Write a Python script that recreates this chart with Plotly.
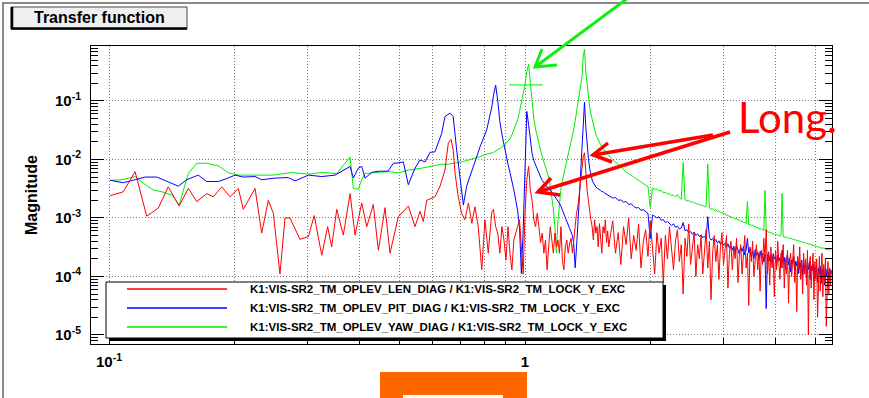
import numpy as np
import plotly.graph_objects as go

W, H = 869, 398
FL, FR, FT, FB = 91, 832, 46, 344   # frame edges in pixels


def px(x):
    return (x - FL) / (FR - FL)


def py(y):
    return (FB - y) / (FB - FT)


# ---------------- data ----------------
# shared FFT bins above 0.84 Hz
freq_mid = np.round(np.arange(84, 160) / 100.0, 2)          # 0.84 .. 1.59 Hz
freq_hi = np.round(np.arange(64, 219) * 0.025, 3)           # 1.600 .. 5.450 Hz

# LEN_DIAG / LOCK_Y_EXC
red_lo_freq = [0.1006, 0.1082, 0.1155, 0.1232, 0.1313, 0.1388, 0.1474, 0.1551, 0.1625, 0.1717,
               0.1781, 0.1866, 0.1954, 0.2046, 0.2102, 0.2244, 0.2328, 0.2415, 0.2483, 0.2576,
               0.2649, 0.2723, 0.2877, 0.3015, 0.3114, 0.3246, 0.3354, 0.3429, 0.3527, 0.3658,
               0.3797, 0.3903, 0.4050, 0.4164, 0.4318, 0.4441, 0.4608, 0.4737, 0.4960, 0.5242,
               0.5440, 0.5593, 0.5695, 0.5803, 0.6075, 0.625, 0.642, 0.654, 0.664, 0.672,
               0.679, 0.691, 0.704, 0.717, 0.731, 0.745, 0.758, 0.772, 0.787, 0.801,
               0.816, 0.832]
red_lo_mag = [2.4e-3, 2.8e-3, 6.2e-3, 1.07e-3, 1.47e-3, 3.4e-3, 1.6e-3, 3.2e-3, 1.9e-3, 2.6e-3,
              2.3e-3, 3.4e-3, 2.3e-3, 3.2e-3, 1.4e-3, 3.2e-3, 5.5e-4, 2.0e-3, 1.2e-3, 1.1e-4,
              1.0e-3, 1.0e-3, 4.3e-4, 4.8e-4, 1.1e-3, 2.3e-4, 7.1e-4, 3.2e-4, 1.4e-3, 5.1e-4,
              2.6e-3, 5.1e-4, 1.8e-3, 7.1e-4, 1.7e-3, 2.8e-4, 1.5e-3, 2.5e-4, 1.05e-3, 1.6e-3,
              7.1e-4, 1.3e-3, 8.7e-4, 2.0e-3, 2.3e-3, 3.5e-3, 6.6e-3, 1.9e-2, 2.2e-2, 1.45e-2,
              5.8e-3, 2.3e-3, 1.2e-3, 9.3e-4, 1.8e-3, 8.1e-4, 1.55e-3, 7.1e-4, 1.3e-4, 9.3e-4,
              2.5e-4, 1.26e-3]
red_mid = [1.4e-3, 7.1e-4, 5.5e-4, 2.5e-4, 7.1e-4, 4.2e-4, 1.9e-4, 7.1e-4, 2.5e-4, 1.3e-4,
           4.2e-4, 5.5e-4, 7.1e-4, 9.3e-4, 3.2e-4, 1.1e-4, 1.2e-3, 4.5e-3, 7.6e-3, 3.0e-3,
           2.0e-3, 9.3e-4, 7.1e-4, 1.2e-3, 7.1e-4, 3.8e-4, 5.5e-4, 2.5e-4, 4.2e-4, 1.3e-4,
           3.2e-4, 7.1e-4, 4.2e-4, 2.5e-4, 5.5e-4, 3.2e-4, 4.2e-4, 2.5e-4, 7.1e-4, 1.9e-4,
           1.3e-4, 3.2e-4, 4.2e-4, 2.5e-4, 3.6e-4, 4.5e-4, 2.5e-4, 5.0e-4, 7.1e-4, 1.2e-3,
           1.6e-3, 2.5e-3, 4.0e-3, 7.0e-3, 1.1e-2, 1.3e-2, 5.0e-3, 3.0e-3, 2.0e-3, 1.2e-3,
           9.3e-4, 7.1e-4, 4.2e-4, 9.3e-4, 5.5e-4, 7.1e-4, 3.2e-4, 8.0e-4, 4.2e-4, 2.5e-4,
           7.1e-4, 5.5e-4, 9.3e-4, 3.8e-4, 6.0e-4, 3.2e-4]
red_hi = [4.5e-4, 8.9e-4, 2.5e-4, 5.6e-4, 1.6e-4, 7.1e-4, 3.5e-4, 1.0e-3, 2.0e-4, 5.0e-4,
          2.8e-4, 7.9e-4, 1.4e-4, 4.0e-4, 6.3e-4, 2.2e-4, 8.9e-4, 3.2e-4, 1.1e-4, 5.6e-4,
          2.5e-4, 4.5e-4, 7.9e-5, 5.0e-4, 2.0e-4, 7.1e-4, 2.8e-4, 1.3e-4, 4.0e-4, 6.3e-4,
          1.8e-4, 3.5e-4, 5.0e-5, 4.5e-4, 2.2e-4, 7.9e-4, 1.6e-4, 3.2e-4, 5.6e-4, 1.0e-4,
          3.5e-4, 2.0e-4, 5.0e-4, 1.1e-4, 2.8e-4, 6.3e-4, 1.4e-4, 4.0e-4, 4.0e-5, 2.5e-4,
          5.0e-4, 1.8e-4, 3.5e-4, 8.9e-5, 3.2e-4, 5.6e-4, 1.6e-4, 2.8e-4, 5.0e-4, 6.3e-5,
          2.5e-4, 4.0e-4, 1.3e-4, 3.2e-4, 2.0e-4, 4.5e-4, 7.9e-5, 2.2e-4, 3.5e-4, 1.1e-4,
          2.8e-4, 5.0e-4, 1.4e-4, 2.5e-4, 3.2e-5, 3.2e-4, 1.8e-4, 4.0e-4, 1.0e-4, 2.2e-4,
          3.5e-4, 1.3e-4, 2.5e-4, 5.6e-5, 2.8e-4, 1.6e-4, 4.5e-4, 2.0e-4, 6.3e-4, 1.1e-4,
          2.5e-4, 7.1e-5, 3.2e-4, 1.4e-4, 2.2e-4, 4.5e-5, 2.8e-4, 1.3e-4, 4.0e-4, 1.8e-4,
          8.9e-5, 2.5e-4, 1.4e-4, 3.5e-4, 6.3e-5, 2.0e-4, 1.1e-4, 2.8e-4, 3.5e-5, 1.8e-4,
          2.5e-4, 1.0e-4, 2.0e-4, 3.5e-4, 7.9e-5, 1.6e-4, 2.5e-5, 2.2e-4, 1.3e-4, 3.2e-4,
          8.9e-5, 1.8e-4, 5.0e-5, 2.5e-4, 1.1e-4, 2.0e-4, 7.1e-5, 2.8e-4, 1.0e-5, 1.6e-4,
          2.2e-4, 6.3e-5, 1.4e-4, 2.5e-4, 4.0e-5, 1.8e-4, 8.9e-5, 2.0e-4, 2.0e-5, 1.4e-4,
          2.2e-4, 5.6e-5, 1.3e-4, 2.5e-4, 4.5e-5, 1.6e-4, 7.9e-5, 2.0e-4, 1.4e-5, 1.1e-4,
          1.8e-4, 5.0e-5, 1.4e-4, 7.1e-5, 1.3e-4]

# PIT_DIAG / LOCK_Y_EXC
blue_lo_freq = [0.1006, 0.1082, 0.1155, 0.1221, 0.1302, 0.1376, 0.1467, 0.1537, 0.1639, 0.1717,
                0.1830, 0.1918, 0.2009, 0.2102, 0.2244, 0.2328, 0.2506, 0.2698, 0.2800, 0.3015,
                0.3246, 0.3494, 0.3797, 0.3867, 0.3974, 0.4050, 0.4125, 0.4281, 0.4441, 0.4686,
                0.4826, 0.5006, 0.5098, 0.5242, 0.5440, 0.5593, 0.5749, 0.5909, 0.6075, 0.6306,
                0.642, 0.660, 0.672, 0.685, 0.698, 0.711, 0.724, 0.751, 0.780, 0.809,
                0.832]
blue_lo_mag = [4.4e-3, 4.0e-3, 4.5e-3, 5.0e-3, 5.0e-3, 4.2e-3, 3.5e-3, 4.5e-3, 5.4e-3, 4.2e-3,
               4.2e-3, 4.7e-3, 5.4e-3, 5.0e-3, 5.1e-3, 4.5e-3, 4.8e-3, 4.9e-3, 4.3e-3, 5.4e-3,
               5.1e-3, 5.4e-3, 7.6e-3, 4.8e-3, 7.1e-3, 7.6e-3, 4.8e-3, 6.0e-3, 6.3e-3, 6.3e-3,
               8.6e-3, 8.8e-3, 9.1e-3, 3.7e-3, 7.1e-3, 9.8e-3, 9.1e-3, 1.32e-2, 1.35e-2, 2.8e-2,
               5.4e-2, 6.2e-2, 5.4e-2, 1.45e-2, 4.5e-3, 1.66e-3, 3.5e-3, 7.6e-3, 1.66e-2, 3.2e-2,
               7.9e-2]
blue_mid = [0.126, 0.186, 0.100, 4.47e-2, 2.69e-2, 1.74e-2, 1.20e-2, 8.32e-3, 6.03e-3, 4.37e-3,
            3.02e-3, 2.00e-3, 1.32e-3, 7.08e-4, 1.12e-4, 6.31e-4, 6.31e-3, 6.61e-2, 3.98e-2, 1.91e-2,
            1.26e-2, 9.55e-3, 7.94e-3, 6.76e-3, 5.75e-3, 5.01e-3, 4.37e-3, 3.98e-3, 3.63e-3, 3.39e-3,
            3.16e-3, 3.02e-3, 2.75e-3, 2.51e-3, 2.34e-3, 2.19e-3, 2.00e-3, 1.78e-3, 1.58e-3, 1.38e-3,
            1.20e-3, 1.05e-3, 8.91e-4, 7.59e-4, 6.61e-4, 5.75e-4, 5.01e-4, 3.55e-4, 1.41e-4, 3.16e-4,
            7.08e-4, 2.00e-3, 5.62e-3, 1.41e-2, 4.47e-2, 9.55e-2, 3.55e-2, 1.78e-2, 1.05e-2, 7.08e-3,
            5.37e-3, 4.47e-3, 3.98e-3, 3.55e-3, 3.39e-3, 3.24e-3, 3.16e-3, 3.02e-3, 2.95e-3, 2.82e-3,
            2.82e-3, 2.69e-3, 2.63e-3, 2.51e-3, 2.45e-3, 2.40e-3]
blue_hi = [2.34e-3, 2.19e-3, 2.24e-3, 2.00e-3, 2.04e-3, 1.86e-3, 1.91e-3, 1.70e-3, 1.74e-3, 1.58e-3,
           1.48e-3, 1.51e-3, 1.35e-3, 1.38e-3, 1.26e-3, 1.20e-3, 4.47e-4, 1.12e-3, 1.07e-3, 1.00e-3,
           1.05e-3, 9.12e-4, 9.33e-4, 8.32e-4, 8.71e-4, 7.94e-4, 7.41e-4, 7.94e-4, 6.92e-4, 7.24e-4,
           6.46e-4, 6.76e-4, 8.32e-4, 6.03e-4, 6.31e-4, 5.62e-4, 5.89e-4, 5.25e-4, 5.75e-4, 5.01e-4,
           5.37e-4, 4.79e-4, 5.13e-4, 4.57e-4, 4.90e-4, 4.37e-4, 1.05e-3, 4.68e-4, 4.17e-4, 4.47e-4,
           3.98e-4, 4.27e-4, 3.72e-4, 4.07e-4, 3.55e-4, 3.89e-4, 3.39e-4, 3.72e-4, 3.16e-4, 3.63e-4,
           3.02e-4, 3.47e-4, 2.82e-4, 3.31e-4, 2.63e-4, 3.39e-4, 2.95e-4, 2.40e-4, 3.16e-4, 2.69e-4,
           3.24e-4, 2.34e-4, 2.82e-4, 4.47e-4, 2.51e-4, 3.02e-4, 2.19e-4, 2.75e-4, 2.00e-4, 2.88e-4,
           2.29e-4, 2.63e-4, 1.91e-4, 2.69e-4, 2.09e-4, 2.51e-4, 1.78e-4, 2.40e-4, 2.82e-5, 2.19e-4,
           2.63e-4, 1.82e-4, 2.34e-4, 1.66e-4, 2.45e-4, 2.00e-4, 2.19e-4, 1.51e-4, 2.29e-4, 1.86e-4,
           2.09e-4, 1.41e-4, 2.82e-4, 1.74e-4, 2.14e-4, 1.32e-4, 2.00e-4, 2.40e-4, 1.58e-4, 2.04e-4,
           1.20e-4, 1.91e-4, 1.66e-4, 2.19e-4, 1.26e-4, 1.82e-4, 1.51e-4, 2.00e-4, 1.12e-4, 1.74e-4,
           1.45e-4, 1.91e-4, 1.05e-4, 1.66e-4, 1.38e-4, 1.82e-4, 9.55e-5, 1.58e-4, 1.32e-4, 1.74e-4,
           8.91e-5, 1.51e-4, 1.26e-4, 1.62e-4, 8.32e-5, 1.45e-4, 1.17e-4, 1.55e-4, 7.94e-5, 1.38e-4,
           1.12e-4, 1.48e-4, 7.59e-5, 1.32e-4, 1.07e-4, 1.41e-4, 7.08e-5, 1.26e-4, 1.00e-4, 1.35e-4,
           6.61e-5, 1.20e-4, 9.55e-5, 1.29e-4, 1.12e-4]

# YAW_DIAG / LOCK_Y_EXC
green_lo_freq = [0.1006, 0.1073, 0.1155, 0.1210, 0.1278, 0.1340, 0.1418, 0.1474, 0.1551, 0.1625,
                 0.1717, 0.1830, 0.1936, 0.2046, 0.2244, 0.2483, 0.2749, 0.3015, 0.3246, 0.3527,
                 0.3797, 0.3867, 0.3974, 0.4050, 0.4125, 0.4441, 0.4690, 0.4960, 0.5242, 0.5645,
                 0.6075, 0.6306, 0.6541, 0.7044, 0.7655, 0.800]
green_lo_mag = [4.4e-3, 4.5e-3, 5.1e-3, 3.9e-3, 3.0e-3, 2.8e-3, 2.45e-3, 1.66e-3, 5.75e-3, 8.6e-3,
                8.6e-3, 7.8e-3, 5.9e-3, 5.4e-3, 5.4e-3, 5.4e-3, 6.0e-3, 5.6e-3, 6.0e-3, 5.75e-3,
                1.10e-2, 3.2e-3, 3.1e-3, 4.5e-3, 5.75e-3, 6.0e-3, 6.2e-3, 5.9e-3, 6.6e-3, 7.1e-3,
                7.8e-3, 8.3e-3, 8.3e-3, 9.1e-3, 1.07e-2, 1.20e-2]
green_mid = [1.32e-2, 1.38e-2, 1.45e-2, 1.51e-2, 1.62e-2, 1.74e-2, 1.91e-2, 2.04e-2, 2.24e-2, 2.63e-2,
             3.16e-2, 3.80e-2, 4.79e-2, 6.61e-2, 9.12e-2, 0.126, 0.190, 0.316, 0.427, 0.200,
             8.91e-2, 5.01e-2, 3.31e-2, 2.40e-2, 1.82e-2, 1.45e-2, 1.12e-2, 9.12e-3, 7.41e-3, 6.03e-3,
             5.01e-3, 3.55e-3, 2.40e-3, 1.41e-3, 7.08e-4, 2.51e-4, 8.91e-4, 2.00e-3, 3.16e-3, 4.37e-3,
             5.62e-3, 7.59e-3, 9.55e-3, 1.20e-2, 1.45e-2, 1.91e-2, 2.51e-2, 3.31e-2, 4.57e-2, 6.31e-2,
             9.12e-2, 0.132, 0.182, 0.251, 0.562, 0.759, 0.316, 0.178, 0.112, 7.94e-2,
             6.03e-2, 4.79e-2, 3.80e-2, 3.16e-2, 2.69e-2, 2.40e-2, 2.14e-2, 1.95e-2, 1.78e-2, 1.66e-2,
             1.55e-2, 1.45e-2, 1.38e-2, 1.29e-2, 1.23e-2, 1.17e-2]
green_hi = [1.10e-2, 1.00e-2, 8.91e-3, 8.32e-3, 7.41e-3, 6.76e-3, 6.03e-3, 5.75e-3, 5.37e-3, 4.90e-3,
            4.68e-3, 4.27e-3, 4.07e-3, 3.80e-3, 3.63e-3, 3.47e-3, 1.51e-3, 3.24e-3, 3.09e-3, 3.16e-3,
            2.88e-3, 2.95e-3, 2.69e-3, 2.75e-3, 2.57e-3, 2.63e-3, 2.40e-3, 2.45e-3, 2.29e-3, 2.51e-3,
            2.19e-3, 2.09e-3, 8.91e-3, 2.04e-3, 1.95e-3, 2.00e-3, 1.86e-3, 1.91e-3, 1.78e-3, 1.82e-3,
            1.70e-3, 1.74e-3, 1.62e-3, 1.66e-3, 1.55e-3, 1.58e-3, 8.32e-3, 1.48e-3, 1.41e-3, 1.45e-3,
            1.35e-3, 1.38e-3, 1.29e-3, 1.32e-3, 1.23e-3, 1.26e-3, 1.15e-3, 1.20e-3, 1.10e-3, 1.12e-3,
            1.05e-3, 1.07e-3, 1.00e-3, 1.02e-3, 9.55e-4, 9.77e-4, 9.12e-4, 9.33e-4, 8.71e-4, 8.91e-4,
            8.32e-4, 8.51e-4, 7.94e-4, 1.91e-3, 7.59e-4, 7.76e-4, 7.41e-4, 7.59e-4, 7.08e-4, 7.24e-4,
            6.76e-4, 6.92e-4, 6.46e-4, 6.61e-4, 6.31e-4, 6.46e-4, 6.03e-4, 2.95e-3, 5.89e-4, 6.03e-4,
            5.62e-4, 5.75e-4, 5.50e-4, 5.62e-4, 5.25e-4, 5.37e-4, 5.13e-4, 5.25e-4, 5.01e-4, 5.13e-4,
            4.90e-4, 5.01e-4, 2.63e-3, 4.79e-4, 4.68e-4, 4.79e-4, 4.57e-4, 4.68e-4, 4.47e-4, 4.57e-4,
            4.37e-4, 4.47e-4, 4.27e-4, 4.37e-4, 4.17e-4, 4.27e-4, 4.07e-4, 4.17e-4, 3.98e-4, 4.07e-4,
            3.89e-4, 3.98e-4, 3.80e-4, 3.89e-4, 3.72e-4, 3.80e-4, 3.63e-4, 3.72e-4, 3.55e-4, 3.63e-4,
            3.47e-4, 3.55e-4, 3.39e-4, 3.47e-4, 3.31e-4, 3.39e-4, 3.24e-4, 3.31e-4, 3.16e-4, 3.24e-4,
            3.09e-4, 3.16e-4, 3.02e-4, 3.09e-4, 3.02e-4, 3.09e-4, 2.95e-4, 3.02e-4, 2.88e-4, 2.95e-4,
            2.82e-4, 2.88e-4, 2.82e-4, 2.88e-4, 2.82e-4]

# cursor mark on the YAW resonance
cursor_freq = [1.005]
cursor_mag = [0.188]

series_names = ["K1:VIS-SR2_TM_OPLEV_LEN_DIAG / K1:VIS-SR2_TM_LOCK_Y_EXC",
                "K1:VIS-SR2_TM_OPLEV_PIT_DIAG / K1:VIS-SR2_TM_LOCK_Y_EXC",
                "K1:VIS-SR2_TM_OPLEV_YAW_DIAG / K1:VIS-SR2_TM_LOCK_Y_EXC"]
series_colors = ["#ff0000", "#0000ff", "#00ee00"]

x_major = [0.1, 1]
x_major_text = ["<b>10<sup>-1</sup></b>", "<b>1</b>"]
x_minor = [0.2, 0.3, 0.4, 0.5, 0.6, 0.7, 0.8, 0.9, 2, 3, 4, 5]
y_major = [1e-5, 1e-4, 1e-3, 1e-2, 1e-1]
y_major_text = ["<b>10<sup>-5</sup></b>", "<b>10<sup>-4</sup></b>", "<b>10<sup>-3</sup></b>",
                "<b>10<sup>-2</sup></b>", "<b>10<sup>-1</sup></b>"]
y_minor = [k * 10.0 ** e for e in range(-6, 0) for k in range(2, 10)]

# ---------------- assemble series ----------------
def join(lo_f, lo_m, mid_m, hi_m):
    assert len(lo_f) == len(lo_m)
    assert len(mid_m) == len(freq_mid), (len(mid_m), len(freq_mid))
    assert len(hi_m) == len(freq_hi), (len(hi_m), len(freq_hi))
    f = list(lo_f) + list(freq_mid) + list(freq_hi)
    m = list(lo_m) + list(mid_m) + list(hi_m)
    return f, m


red_f, red_m = join(red_lo_freq, red_lo_mag, red_mid, red_hi)
blue_f, blue_m = join(blue_lo_freq, blue_lo_mag, blue_mid, blue_hi)
green_f, green_m = join(green_lo_freq, green_lo_mag, green_mid, green_hi)

fig = go.Figure()
for f, m, name, col in [(green_f, green_m, series_names[2], series_colors[2]),
                        (blue_f, blue_m, series_names[1], series_colors[1]),
                        (red_f, red_m, series_names[0], series_colors[0])]:
    fig.add_trace(go.Scatter(x=f, y=m, mode="lines", name=name,
                             line=dict(color=col, width=1), showlegend=False))

fig.add_trace(go.Scatter(x=cursor_freq, y=cursor_mag, mode="markers", showlegend=False,
                         marker=dict(symbol="line-ew", size=24,
                                     line=dict(color=series_colors[2], width=1))))

grid = dict(showgrid=True, gridcolor="#7a7a7a", griddash="1px,2px", gridwidth=1)

fig.update_layout(
    width=W, height=H,
    margin=dict(l=FL, r=W - FR, t=FT, b=H - FB, pad=0),
    paper_bgcolor="white", plot_bgcolor="white",
    font=dict(family="Liberation Sans", color="black"),
    xaxis=dict(type="log", range=[np.log10(0.0905), np.log10(5.47)],
               tickmode="array", tickvals=x_major, ticktext=x_major_text,
               ticks="inside", ticklen=10, tickwidth=1, tickcolor="black",
               tickfont=dict(size=15, family="Liberation Sans"), ticklabelstandoff=4,
               showline=True, linecolor="black", linewidth=1, mirror=True,
               zeroline=False, **grid,
               minor=dict(tickmode="array", tickvals=x_minor, ticks="inside", ticklen=6,
                          tickcolor="black", **grid)),
    yaxis=dict(type="log", range=[np.log10(7.0e-6), np.log10(0.87)],
               tickmode="array", tickvals=y_major, ticktext=y_major_text,
               ticks="inside", ticklen=13, tickwidth=1, tickcolor="black",
               tickfont=dict(size=15, family="Liberation Sans"), ticklabelstandoff=6,
               showline=True, linecolor="black", linewidth=1, mirror="ticks",
               zeroline=False, **grid,
               minor=dict(tickmode="array", tickvals=y_minor, ticks="inside", ticklen=7,
                          tickcolor="black", showgrid=False)),
)

shapes = []
annotations = []


def rect(x0, y0, x1, y1, fill, line_color=None, lw=0):
    shapes.append(dict(type="rect", xref="paper", yref="paper", layer="above",
                       x0=px(x0), x1=px(x1), y0=py(y1), y1=py(y0), fillcolor=fill,
                       line=dict(color=line_color or fill, width=lw)))


def seg(pts, color, width):
    path = "M " + " L ".join(f"{px(x):.5f},{py(y):.5f}" for x, y in pts)
    shapes.append(dict(type="path", xref="paper", yref="paper", layer="above", path=path,
                       fillcolor="rgba(0,0,0,0)", line=dict(color=color, width=width)))


def hline(x0, x1, y, color, width):
    shapes.append(dict(type="line", xref="paper", yref="paper", layer="above",
                       x0=px(x0), x1=px(x1), y0=py(y), y1=py(y),
                       line=dict(color=color, width=width)))


# canvas edge
seg([(3, 398), (3, 3), (869, 3)], "#8a8a8a", 2)

# title pave
rect(11, 7, 187, 29, "#efefef", "#444444", 1)
seg([(12, 7), (12, 29)], "black", 2.5)
hline(11, 187, 28.5, "black", 2.5)
annotations.append(dict(x=px(99), y=py(18), xref="paper", yref="paper", showarrow=False,
                        text="<b>Transfer function</b>", xanchor="center", yanchor="middle",
                        font=dict(size=16, family="Liberation Sans", color="black")))

# y-axis title
annotations.append(dict(x=px(31), y=py(195), xref="paper", yref="paper", showarrow=False,
                        text="<b>Magnitude</b>", textangle=-90, xanchor="center",
                        yanchor="middle",
                        font=dict(size=16, family="Liberation Sans", color="black")))

# legend pave with shadow
rect(109, 285, 666, 341, "black")
rect(106, 282, 663, 338, "white", "black", 1)
row_y = [289, 308, 327]
for yy, name, col in zip(row_y, series_names, series_colors):
    hline(127, 227, yy, col, 1.3)
    annotations.append(dict(x=px(248), y=py(yy), xref="paper", yref="paper", showarrow=False,
                            text=f"<b>{name}</b>", xanchor="left", yanchor="middle",
                            font=dict(size=11.5, family="Liberation Sans", color="black")))

# pointer arrows
seg([(628, -2), (535, 67)], "#11ee11", 3)
seg([(557, 65), (535, 67), (542, 49)], "#11ee11", 3)
seg([(713, 135), (593, 155)], "#ff0000", 3.5)
seg([(608, 143), (593, 155), (612, 162)], "#ff0000", 3.5)
seg([(730, 132), (538, 192)], "#ff0000", 3.5)
seg([(551, 178), (538, 192), (560, 195)], "#ff0000", 3.5)
annotations.append(dict(x=px(787), y=py(117), xref="paper", yref="paper", showarrow=False,
                        text="Long.", xanchor="center", yanchor="middle",
                        font=dict(size=42, family="Lato", color="#ff0000")))

# orange block at the bottom
rect(380, 372, 527, 400, "#ff6600")
rect(403, 395, 503, 400, "white")

fig.update_layout(shapes=shapes, annotations=annotations)
fig.write_html("out.html")
